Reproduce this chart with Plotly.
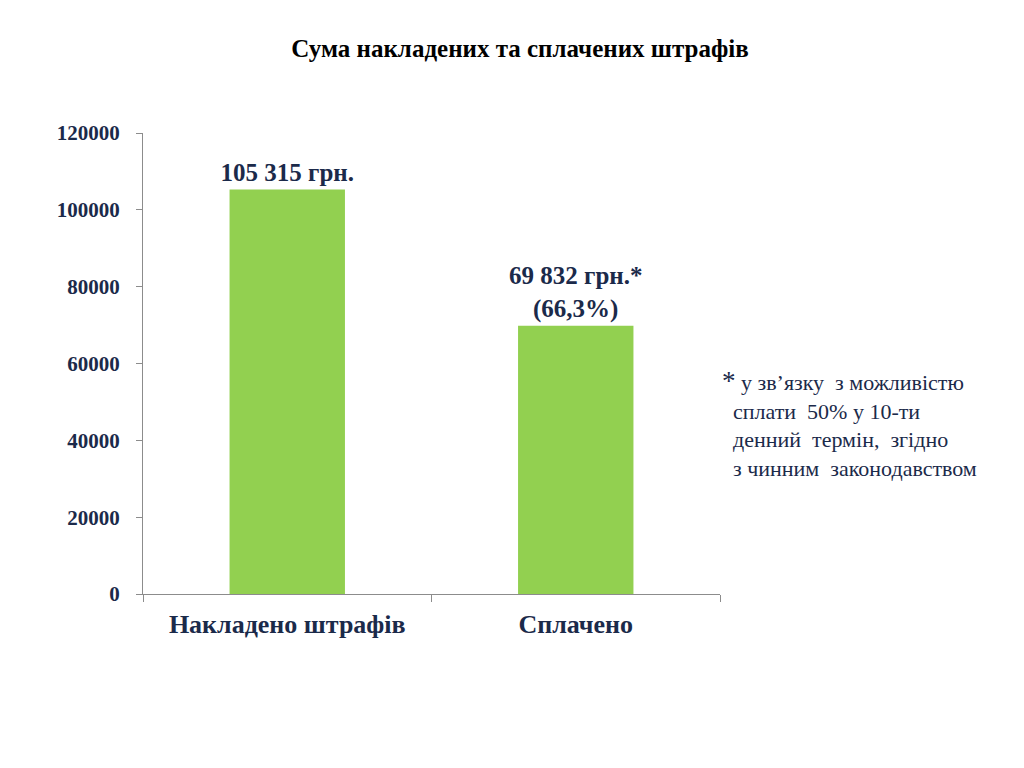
import plotly.graph_objects as go

# Сума накладених та сплачених штрафів
categorii = ["Накладено штрафів", "Сплачено"]
sumy = [105315, 69832]
pidpysy = ["105 315 грн.", "69 832 грн.*<br>(66,3%)"]
y_ticks = [0, 20000, 40000, 60000, 80000, 100000, 120000]
y_tick_labels = ["0", "20000", "40000", "60000", "80000", "100000", "120000"]

navy = "#1b2a4a"
serif = "Liberation Serif"

fig = go.Figure()

fig.add_trace(go.Bar(x=categorii, y=sumy, text=pidpysy,
                     texttemplate="<b>%{text}</b>",
                     textposition="outside", cliponaxis=False,
                     constraintext="none",
                     textfont=dict(family=serif, size=25, color=navy),
                     marker=dict(color="#92d050", line=dict(width=0)),
                     hoverinfo="skip"))

fig.update_layout(
    width=1024, height=768,
    paper_bgcolor="white", plot_bgcolor="white",
    margin=dict(l=135, r=312, t=125, b=182),
    bargap=0.6,
    showlegend=False,
    title=dict(text="<b>Сума накладених та сплачених штрафів</b>",
               x=0.5, xanchor="center", y=0.948, yanchor="middle",
               font=dict(family=serif, size=25, color="black")),
    font=dict(family=serif, color=navy),
)

fig.update_yaxes(range=[0, 120000], tickvals=y_ticks,
                 ticktext=["<b>" + t + "</b>" for t in y_tick_labels],
                 showgrid=False, zeroline=False,
                 showline=True, linecolor="#8c8c8c", linewidth=1,
                 ticks="outside", ticklen=6, tickcolor="#8c8c8c",
                 tickfont=dict(family=serif, size=21, color=navy),
                 ticklabelstandoff=12)

fig.update_xaxes(tickvals=categorii,
                 ticktext=["<b>" + c + "</b>" for c in categorii],
                 showline=True, linecolor="#8c8c8c", linewidth=1,
                 ticks="outside", tickson="boundaries", ticklen=7,
                 tickcolor="#8c8c8c",
                 tickfont=dict(family=serif, size=26, color=navy),
                 ticklabelstandoff=7)

# примітка праворуч
fig.add_annotation(xref="paper", yref="paper", x=1.0, y=0.498,
                   xanchor="left", yanchor="top", align="left",
                   showarrow=False,
                   text="<span style='font-size:27px'>*</span> у зв’язку  з можливістю<br>"
                        "  сплати  50% у 10-ти<br>"
                        "  денний  термін,  згідно<br>"
                        "  з чинним  законодавством",
                   font=dict(family=serif, size=22, color=navy))

fig.write_html("out.html")
